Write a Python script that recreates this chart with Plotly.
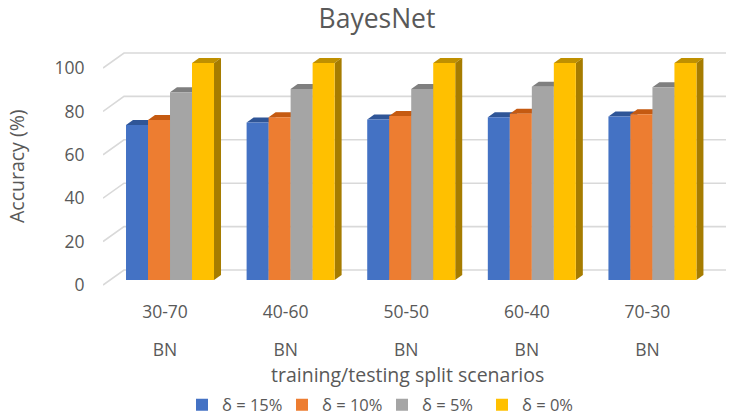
import plotly.graph_objects as go

scenarios = ['30-70', '40-60', '50-50', '60-40', '70-30']
method_labels = ['BN', 'BN', 'BN', 'BN', 'BN']
series_names = ['δ = 15%', 'δ = 10%', 'δ = 5%', 'δ = 0%']
delta_15 = [71.4, 72.6, 74.0, 75.0, 75.3]
delta_10 = [73.7, 75.0, 75.6, 76.6, 76.4]
delta_5 = [86.5, 88.0, 88.0, 89.0, 88.8]
delta_0 = [100, 100, 100, 100, 100]
y_ticks = [0, 20, 40, 60, 80, 100]

front_colors = ['#4472C4', '#ED7D31', '#A5A5A5', '#FFC000']
top_colors = ['#2F5597', '#C55A11', '#7F7F7F', '#BF9000']
side_colors = ['#2F5597', '#AE5A21', '#7B7B7B', '#A67C00']

FONT = 'Open Sans'
TEXT = '#595959'
GRID = '#D9D9D9'

BAR_W = 22 / 120.6
DEPTH_X = 7 / 120.6
DEPTH_Y = 5 / 2.17
WALL_X = 21 / 120.6
LABEL_SHIFT = 5 / 120.6
FLOOR_FRONT = -2.3
FLOOR_BACK = 4.6
X_RANGE = [-0.5556, 4.61]
Y_RANGE = [-4.608, 108.29]

values = [delta_15, delta_10, delta_5, delta_0]
label_positions = [i - LABEL_SHIFT for i in range(len(scenarios))]
fig = go.Figure()

# back wall and side wall gridlines
for tick in y_ticks:
    fig.add_trace(go.Scatter(
        x=[X_RANGE[0], X_RANGE[0] + WALL_X, X_RANGE[1]],
        y=[tick + FLOOR_FRONT, tick + FLOOR_BACK, tick + FLOOR_BACK],
        mode='lines', line=dict(color=GRID, width=1.6),
        showlegend=False, hoverinfo='skip', cliponaxis=False
    ))

# top and side faces of the bars, underneath the fronts
for s, series in enumerate(values):
    for i, v in enumerate(series):
        left = i + (s - 2) * BAR_W
        right = left + BAR_W
        fig.add_trace(go.Scatter(
            x=[left, right, right + DEPTH_X, left + DEPTH_X, left],
            y=[v, v, v + DEPTH_Y, v + DEPTH_Y, v],
            mode='lines', fill='toself', fillcolor=top_colors[s],
            line=dict(width=0), showlegend=False, hoverinfo='skip'
        ))
        fig.add_trace(go.Scatter(
            x=[right, right + DEPTH_X, right + DEPTH_X, right, right],
            y=[0, DEPTH_Y, v + DEPTH_Y, v, 0],
            mode='lines', fill='toself', fillcolor=side_colors[s],
            line=dict(width=0), showlegend=False, hoverinfo='skip'
        ))

# front faces on an overlaid subplot so they sit above the depth faces
for s, series in enumerate(values):
    fig.add_trace(go.Bar(
        x=[i + (s - 1.5) * BAR_W for i in range(len(scenarios))],
        y=series, width=BAR_W, name=series_names[s],
        marker=dict(color=front_colors[s], line=dict(width=0)),
        xaxis='x2', yaxis='y2'
    ))

fig.update_layout(
    width=753, height=417,
    margin=dict(l=103, r=27, t=45, b=127, autoexpand=False),
    paper_bgcolor='white', plot_bgcolor='white',
    font=dict(family=FONT, color=TEXT, size=15),
    title=dict(text='BayesNet', x=377 / 753, xanchor='center', y=0.954, yanchor='middle',
               font=dict(size=26.5, color=TEXT, family=FONT)),
    barmode='overlay',
    xaxis=dict(
        range=X_RANGE, showgrid=False, zeroline=False, showline=False,
        tickmode='array', tickvals=label_positions,
        ticktext=scenarios,
        ticks='outside', ticklen=6, tickcolor='rgba(0,0,0,0)',
        tickfont=dict(size=17.5, color=TEXT)
    ),
    yaxis=dict(
        range=Y_RANGE, showgrid=False, zeroline=False, showline=False,
        tickmode='array', tickvals=[t + FLOOR_FRONT for t in y_ticks],
        ticktext=[str(t) for t in y_ticks],
        ticks='outside', ticklen=14, tickcolor='rgba(0,0,0,0)',
        tickfont=dict(size=17.5, color=TEXT)
    ),
    xaxis2=dict(
        range=X_RANGE, overlaying='x', showgrid=False, zeroline=False, showline=False,
        side='bottom', anchor='y2',
        tickmode='array', tickvals=label_positions,
        ticktext=method_labels,
        ticks='outside', ticklen=44, tickcolor='rgba(0,0,0,0)',
        tickfont=dict(size=17.5, color=TEXT)
    ),
    yaxis2=dict(range=Y_RANGE, overlaying='y', visible=False),
    legend=dict(
        orientation='h', x=(382 - 103) / 623, xanchor='center',
        y=(290 - 405) / 245, yanchor='middle',
        entrywidth=55, entrywidthmode='pixels',
        font=dict(size=16.5, color=TEXT), itemclick=False, itemdoubleclick=False
    ),
    annotations=[
        dict(text='training/testing split scenarios', xref='paper', yref='paper',
             x=(407 - 103) / 623, y=(290 - 374) / 245, showarrow=False,
             xanchor='center', yanchor='middle',
             font=dict(size=19.5, color=TEXT)),
        dict(text='Accuracy (%)', xref='paper', yref='paper', textangle=-90,
             x=(16 - 103) / 623, y=(290 - 166) / 245, showarrow=False,
             xanchor='center', yanchor='middle',
             font=dict(size=19.5, color=TEXT)),
    ]
)

# drop the page's default body margin so the figure fills the window
fig.write_html('out.html', config=dict(displayModeBar=False),
               post_script="document.body.style.margin = '0';")
